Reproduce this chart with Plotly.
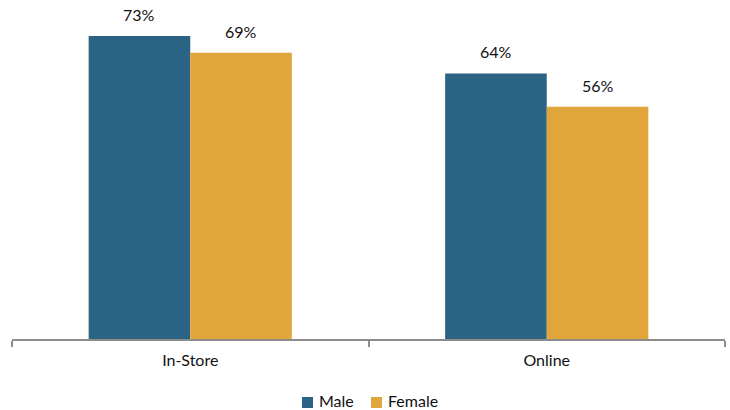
import plotly.graph_objects as go

categories = ["In-Store", "Online"]
male = [73, 64]
female = [69, 56]
labels_male = ["73%", "64%"]
labels_female = ["69%", "56%"]
series_names = ["Male", "Female"]

MALE_C = "#2B6384"
FEMALE_C = "#E0A53B"
FONT = "Lato"
bargap = 0.43
half = (1 - bargap) / 4  # half of single bar width in category units

# plot area geometry in pixels
L, R, T, B = 12, 5, 0, 71
W, H = 730, 410
PW, PH = W - L - R, H - T - B

def px_x(p):
    return (p - L) / PW

def px_y(p):
    return (H - B - p) / PH

fig = go.Figure()
fig.add_trace(go.Bar(name=series_names[0], x=categories, y=male,
                     marker=dict(color=MALE_C, line=dict(width=0))))
fig.add_trace(go.Bar(name=series_names[1], x=categories, y=female,
                     marker=dict(color=FEMALE_C, line=dict(width=0))))

for i, (m, f) in enumerate(zip(male, female)):
    for val, lab, off in ((m, labels_male[i], -half), (f, labels_female[i], half)):
        fig.add_annotation(x=i + off, y=val, text=lab, showarrow=False,
                           yanchor="bottom", yshift=10,
                           font=dict(family=FONT, size=16, color="#111"))

# custom legend (compact, like the reference)
legend_items = [(series_names[0], MALE_C, 302), (series_names[1], FEMALE_C, 371)]
for name, col, x0 in legend_items:
    fig.add_shape(type="rect", xref="paper", yref="paper",
                  x0=px_x(x0), x1=px_x(x0 + 11), y0=px_y(408), y1=px_y(397),
                  fillcolor=col, line=dict(width=0))
    fig.add_annotation(xref="paper", yref="paper", x=px_x(x0 + 15), y=px_y(401),
                       text=name, showarrow=False, xanchor="left", yanchor="middle",
                       font=dict(family=FONT, size=16, color="#111"))

fig.update_layout(
    width=W, height=H,
    margin=dict(l=L, r=R, t=T, b=B),
    paper_bgcolor="white", plot_bgcolor="white",
    barmode="group", bargap=bargap, bargroupgap=0,
    font=dict(family=FONT, size=16, color="#111"),
    showlegend=False,
)
fig.update_xaxes(showline=True, linecolor="#8C8C8C", linewidth=1.5,
                 ticks="outside", tickson="boundaries", ticklen=6, tickcolor="#8C8C8C",
                 tickwidth=1.5, ticklabelstandoff=6, showgrid=False,
                 tickfont=dict(family=FONT, size=16, color="#111"))
fig.update_yaxes(range=[0, 81.7], visible=False, showgrid=False)

fig.write_html("out.html")
